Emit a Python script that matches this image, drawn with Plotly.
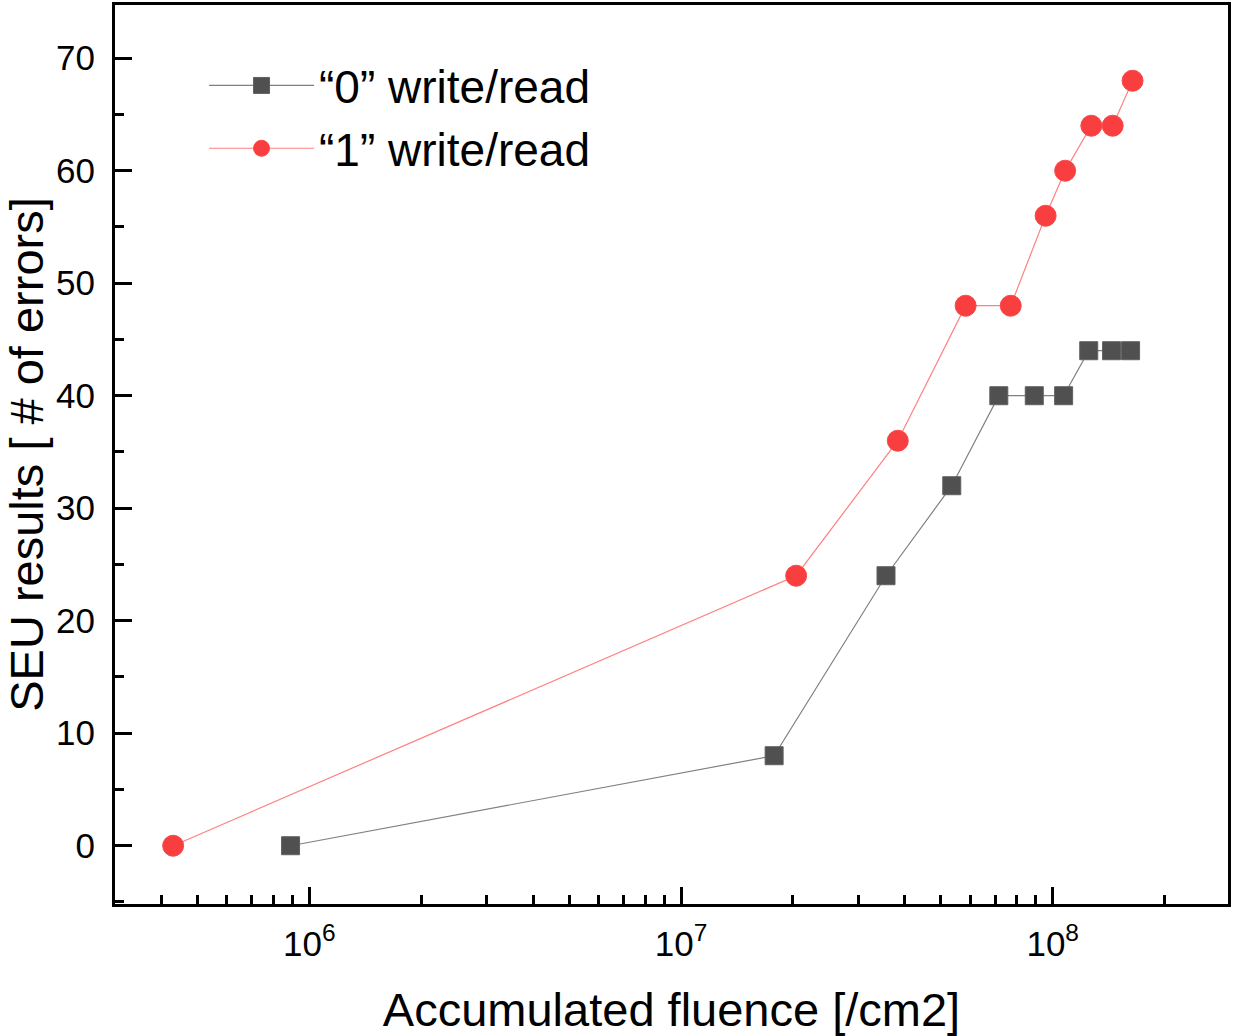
import plotly.graph_objects as go

# Data
fluence_0 = [8.9e5, 1.78e7, 3.56e7, 5.35e7, 7.16e7, 8.92e7, 1.07e8, 1.25e8, 1.44e8, 1.62e8]
seu_0 = [0, 8, 24, 32, 40, 40, 40, 44, 44, 44]
fluence_1 = [4.3e5, 2.04e7, 3.83e7, 5.83e7, 7.71e7, 9.57e7, 1.08e8, 1.27e8, 1.45e8, 1.64e8]
seu_1 = [0, 24, 36, 48, 48, 56, 60, 64, 64, 68]

names = ["\u201c0\u201d write/read", "\u201c1\u201d write/read"]
x_major = [1e6, 1e7, 1e8]
x_major_text = ["10<sup>6</sup>", "10<sup>7</sup>", "10<sup>8</sup>"]
x_minor = [m * 10 ** e for e in (5, 6, 7, 8) for m in range(2, 10)]
y_major = [0, 10, 20, 30, 40, 50, 60, 70]

FONT = "Liberation Sans, Arial, sans-serif"

fig = go.Figure()
fig.add_trace(go.Scatter(
    x=fluence_0, y=seu_0, name=names[0], mode="lines+markers",
    line=dict(color="#808080", width=1.2),
    marker=dict(symbol="square", size=18, color="#505050",
                line=dict(color="#606060", width=1)),
))
fig.add_trace(go.Scatter(
    x=fluence_1, y=seu_1, name=names[1], mode="lines+markers",
    line=dict(color="#ff8080", width=1.2),
    marker=dict(symbol="circle", size=21, color="#f83e3e",
                line=dict(color="#f84a4a", width=1)),
))

axis_common = dict(
    showline=True, linecolor="black", linewidth=3, mirror=True,
    showgrid=False, zeroline=False, automargin=False,
    ticks="inside", ticklen=17, tickwidth=2.5, tickcolor="black",
    tickfont=dict(family=FONT, size=35, color="black"),
)

fig.update_xaxes(
    type="log", range=[5.477, 8.4716],
    tickmode="array", tickvals=x_major, ticktext=x_major_text,
    title=dict(text="Accumulated fluence [/cm2]",
               font=dict(family=FONT, size=47, color="black"), standoff=33),
    minor=dict(tickmode="array", tickvals=x_minor, ticks="inside",
               ticklen=9, tickwidth=2.5, tickcolor="black"),
    ticklabelstandoff=7,
    **axis_common,
)
fig.update_yaxes(
    range=[-5.18, 74.73],
    tickmode="array", tickvals=y_major,
    title=dict(text="SEU results [ # of errors]",
               font=dict(family=FONT, size=47, color="black"), standoff=33),
    minor=dict(dtick=5, ticks="inside", ticklen=9, tickwidth=2.5, tickcolor="black"),
    ticklabelstandoff=10,
    **axis_common,
)

fig.update_layout(
    width=1234, height=1036,
    margin=dict(l=115, r=6, t=5, b=132),
    paper_bgcolor="white", plot_bgcolor="white",
    showlegend=True,
    legend=dict(
        x=0.080, y=0.951, xanchor="left", yanchor="top",
        bgcolor="rgba(0,0,0,0)",
        font=dict(family=FONT, size=46, color="black"),
        itemwidth=105, tracegroupgap=0,
    ),
)

fig.write_html(
    "out.html",
    config={"displayModeBar": False},
    post_script="document.body.style.margin='0';document.body.style.overflow='hidden';",
)
